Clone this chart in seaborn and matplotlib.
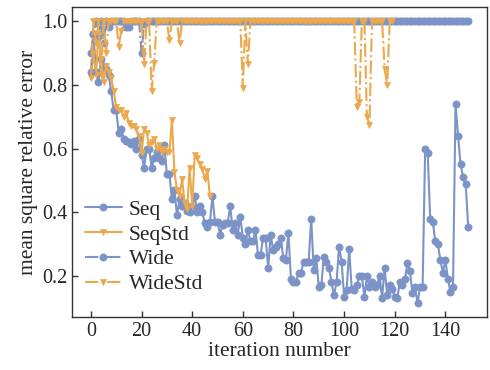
import numpy as np
import pandas as pd
import matplotlib
matplotlib.use("Agg")
import matplotlib.pyplot as plt
import seaborn as sns

seq = [0.90, 0.96, 0.84, 0.81, 0.88, 0.86, 0.85, 0.83, 0.78, 0.72,
       0.72, 0.65, 0.66, 0.63, 0.625, 0.62, 0.615, 0.625, 0.60, 0.63,
       0.58, 0.54, 0.60, 0.60, 0.54, 0.57, 0.59, 0.57, 0.56, 0.61,
       0.52, 0.52, 0.44, 0.47, 0.39, 0.44, 0.42, 0.43, 0.405, 0.40,
       0.42, 0.45, 0.40, 0.42, 0.40, 0.365, 0.355, 0.37, 0.45, 0.37,
       0.37, 0.33, 0.36, 0.365, 0.365, 0.42, 0.345, 0.365, 0.33, 0.385,
       0.32, 0.30, 0.345, 0.31, 0.31, 0.345, 0.265, 0.265, 0.32, 0.32,
       0.225, 0.33, 0.28, 0.29, 0.30, 0.32, 0.255, 0.25, 0.335, 0.19,
       0.18, 0.18, 0.21, 0.21, 0.245, 0.245, 0.245, 0.38, 0.22, 0.255,
       0.165, 0.17, 0.26, 0.245, 0.225, 0.18, 0.14, 0.18, 0.29, 0.245,
       0.135, 0.155, 0.285, 0.16, 0.155, 0.17, 0.20, 0.20, 0.135, 0.20,
       0.165, 0.18, 0.165, 0.17, 0.20, 0.13, 0.225, 0.14, 0.17, 0.16,
       0.135, 0.13, 0.18, 0.17, 0.19, 0.24, 0.215, 0.145, 0.165, 0.115,
       0.165, 0.165, 0.60, 0.585, 0.38, 0.37, 0.31, 0.30, 0.25, 0.21,
       0.25, 0.19, 0.15, 0.165, 0.74, 0.64, 0.55, 0.51, 0.49, 0.355]

seq_std = [0.83, 0.90, 0.83, 0.96, 0.88, 0.81, 0.86, 0.84, 0.82, 0.78,
           0.73, 0.72, 0.72, 0.70, 0.71, 0.68, 0.67, 0.67, 0.66, 0.64,
           0.585, 0.66, 0.65, 0.61, 0.62, 0.63, 0.60, 0.61, 0.59, 0.60,
           0.59, 0.59, 0.69, 0.525, 0.47, 0.45, 0.505, 0.43, 0.41, 0.54,
           0.42, 0.58, 0.57, 0.55, 0.535, 0.505, 0.53, 0.45]

wide = [1.0] * 150
for i, v in {0: 0.84, 1: 0.96, 3: 0.95, 5: 0.93, 7: 0.98, 14: 0.98,
             15: 0.98, 20: 0.90, 21: 0.99}.items():
    wide[i] = v

wide_std = [1.0] * 120
for i, v in {0: 0.82, 2: 0.93, 4: 0.83, 6: 0.90, 11: 0.92, 12: 0.97,
             21: 0.865, 24: 0.78, 25: 0.87, 31: 0.94, 35: 0.93, 60: 0.79,
             62: 0.865, 105: 0.73, 106: 0.745, 109: 0.70, 110: 0.675,
             116: 0.85, 117: 0.80}.items():
    wide_std[i] = v

series = [("Seq", seq, "-", "o"), ("SeqStd", seq_std, "-", "v"),
          ("Wide", wide, "-.", "o"), ("WideStd", wide_std, "-.", "v")]
colors = {"Seq": "#7b93c7", "SeqStd": "#eba84d", "Wide": "#7b93c7", "WideStd": "#eba84d"}

sns.set_style("ticks")
plt.rcParams["font.family"] = ["Liberation Serif", "DejaVu Serif"]
plt.rcParams["xtick.direction"] = "in"
plt.rcParams["ytick.direction"] = "in"

fig = plt.figure(figsize=(4.9, 3.7), dpi=100)
ax = fig.add_axes([0.147, 0.143, 0.847, 0.838])

for name, vals, ls, mk in series:
    c = colors[name]
    sns.lineplot(x=np.arange(len(vals)), y=vals, ax=ax, color=c, linestyle=ls,
                 marker=mk, markersize=5.2 if mk == "o" else 4.5, markeredgecolor=c,
                 markeredgewidth=0.5, linewidth=1.5, label=name)

ax.set_xticks(range(0, 141, 20))
ax.set_yticks([0.2, 0.4, 0.6, 0.8, 1.0])
ax.set_yticklabels(["0.2", "0.4", "0.6", "0.8", "1.0"])
ax.tick_params(labelsize=14.5, length=4, width=1, color="#333333")
ax.set_xlabel("iteration number", fontsize=15.5, labelpad=1)
ax.set_ylabel("mean square relative error", fontsize=15.5, labelpad=3)
for s in ax.spines.values():
    s.set_color("#333333")
    s.set_linewidth(1)

ax.legend(loc="lower left", frameon=False, fontsize=15.5, handlelength=1.75,
          handletextpad=0.3, labelspacing=0.22, borderaxespad=0.0,
          borderpad=0.2, bbox_to_anchor=(0.02, 0.06))

fig.savefig("out.png", dpi=100)
